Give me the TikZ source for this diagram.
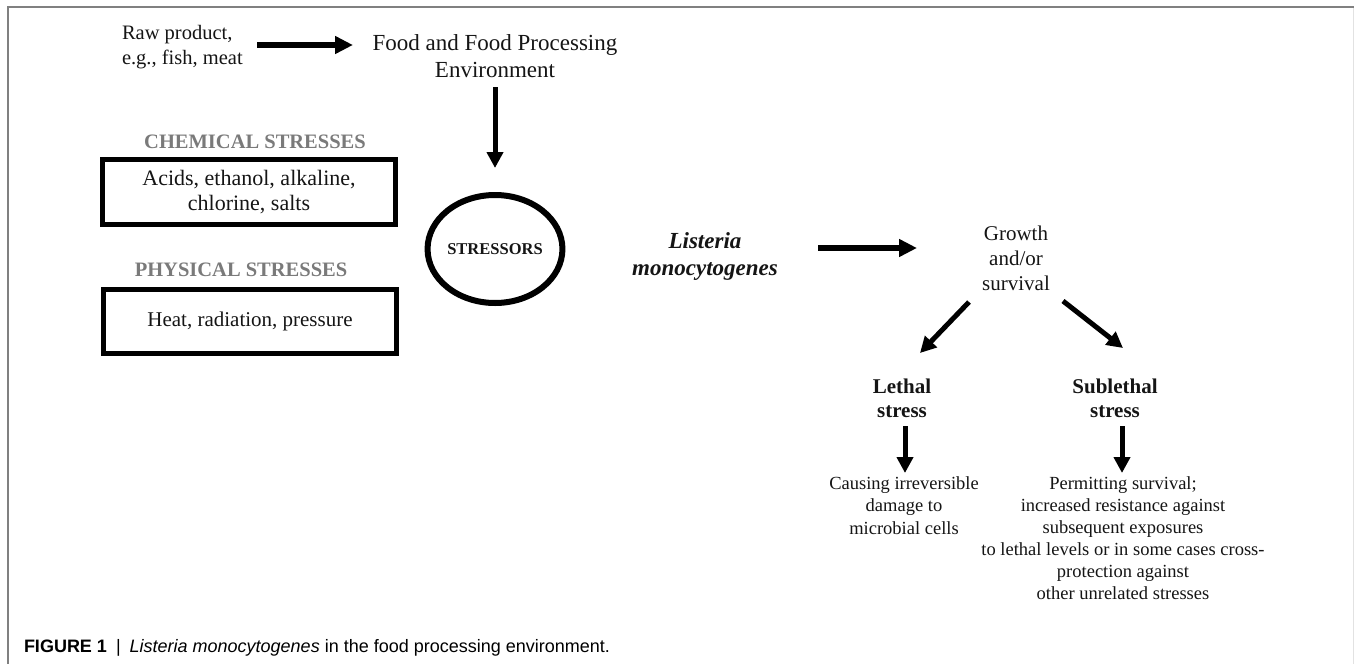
\documentclass[tikz,border=0pt]{standalone}
\usepackage{fontspec}
\setmainfont{Liberation Serif}
\newfontfamily\capfont{Liberation Sans}
\usetikzlibrary{arrows.meta,shapes.geometric}
\newcommand\fsz[2]{\fontsize{#1}{#2}\selectfont}
\definecolor{hdrgray}{HTML}{7A7A7A}
\definecolor{framegray}{HTML}{808080}
\definecolor{edgegray}{HTML}{E2E2E2}
\definecolor{ink}{HTML}{151515}
\tikzset{
  txt/.style={inner sep=0pt, outer sep=0pt, text=ink, align=center},
  hdr/.style={txt, text=hdrgray, font=\bfseries\fsz{20.5}{24}},
  stressbox/.style={txt, draw=black, line width=5pt, minimum width=293pt},
  arr/.style={draw=black, line width=6pt, -{Triangle[length=18pt,width=17pt]}},
  arrs/.style={draw=black, line width=5pt, -{Triangle[length=16pt,width=16pt]}}
}
\begin{document}
\begin{tikzpicture}[x=1pt,y=-1pt]
\useasboundingbox (0,0) rectangle (1355,664);
\fill[white] (0,0) rectangle (1355,664);
% frame around the figure
\draw[edgegray, line width=1.2pt] (1353.5,7) -- (1353.5,664);
\draw[framegray, line width=1.5pt] (8,664) -- (8,7) -- (1354,7);

% source and environment
\node[txt, align=left, anchor=west, font=\fsz{20.5}{25}] (raw) at (122,47.5) {Raw product,\\e.g., fish, meat};
\node[txt, font=\fsz{23}{27}] (food) at (495,56.5) {Food and Food Processing\\Environment};

% stress categories
\node[hdr] (chemhdr) at (255,142) {CHEMICAL STRESSES};
\node[stressbox, minimum height=65pt, font=\fsz{22}{25}] (chembox) at (249,192) {Acids, ethanol, alkaline,\\chlorine, salts};
\node[hdr] (physhdr) at (241,270) {PHYSICAL STRESSES};
\node[stressbox, minimum height=64pt, font=\fsz{21}{25}] (physbox) at (250,321.5) {Heat, radiation, pressure};

% stressors
\node[txt, ellipse, draw=black, line width=6pt, minimum width=131pt, minimum height=108pt, font=\bfseries\fsz{16.5}{20}] (stressors) at (495,249) {STRESSORS};

% organism and responses
\node[txt, font=\bfseries\itshape\fsz{23}{27}] (listeria) at (705,256.5) {Listeria\\monocytogenes};
\node[txt, font=\fsz{21}{25}] (growth) at (1016,258) {Growth\\and/or\\survival};
\node[txt, font=\bfseries\fsz{21}{24}] (lethal) at (902,398) {Lethal\\stress};
\node[txt, font=\bfseries\fsz{21}{24}] (sublethal) at (1115,398) {Sublethal\\stress};
\node[txt, font=\fsz{18.5}{22.5}] (causing) at (904,505.5) {Causing irreversible\\damage to\\microbial cells};
\node[txt, font=\fsz{18.5}{22}] (permit) at (1123,538) {Permitting survival;\\increased resistance against\\subsequent exposures\\to lethal levels or in some cases cross-\\protection against\\other unrelated stresses};

% connectors
\draw[arr] ([shift={(135,-2.5)}]raw.west) -- ([shift={(-142,-11.5)}]food.center);
\draw[arrs] ([shift={(0,30.5)}]food.center) -- ([shift={(0,-81)}]stressors.center);
\draw[arr] ([shift={(113,-8.5)}]listeria.center) -- ([shift={(-99,-10)}]growth.center);
\draw[arrs] ([shift={(-47,44)}]growth.center) -- ([shift={(18,-45)}]lethal.center);
\draw[arrs] ([shift={(47,43)}]growth.center) -- ([shift={(8,-50)}]sublethal.center);
\draw[arrs] ([shift={(3,28)}]lethal.center) -- ([shift={(1,-32.5)}]causing.center);
\draw[arrs] ([shift={(7,28)}]sublethal.center) -- ([shift={(-1,-65)}]permit.center);

% caption
\node[txt, anchor=west, text=black, font=\capfont\fsz{18}{22}] (caption) at (24,648)
  {{\bfseries FIGURE 1}\enspace|\enspace{\itshape Listeria monocytogenes} in the food processing environment.};
\end{tikzpicture}
\end{document}
